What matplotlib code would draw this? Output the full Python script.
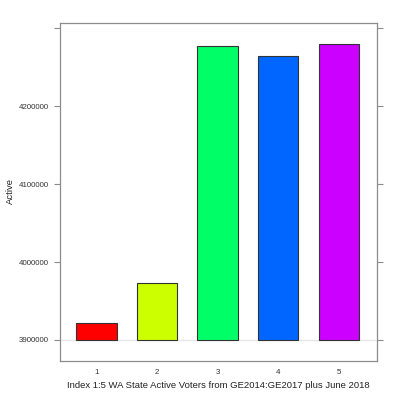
import matplotlib
matplotlib.use("Agg")
import matplotlib.pyplot as plt

plt.rcParams["font.family"] = ["Liberation Sans", "DejaVu Sans"]

index = [1, 2, 3, 4, 5]
active = [3922000, 3972500, 4277000, 4264500, 4279500]
colors = ["#FF0000", "#CCFF00", "#00FF66", "#0066FF", "#CC00FF"]
yticks = [3900000, 4000000, 4100000, 4200000, 4300000]
ytick_labels = ["3900000", "4000000", "4100000", "4200000", ""]
base = 3900000

fig = plt.figure(figsize=(4, 3.99), dpi=100)
ax = fig.add_axes([0.15, 0.0952, 0.7925, 0.847])

ax.axhline(base, color="#e6e6e6", lw=1, zorder=0)
ax.bar(index, [v - base for v in active], bottom=base, width=0.667,
       color=colors, edgecolor="#333333", linewidth=0.8, zorder=2)

ax.set_xlim(0.4, 5.63)
ax.set_ylim(3873000, 4306500)
ax.set_xticks(index)
ax.set_xticklabels([str(i) for i in index])
ax.set_yticks(yticks)
ax.set_yticklabels(ytick_labels)

for s in ax.spines.values():
    s.set_color("#8c8c8c")
    s.set_linewidth(0.9)

ax.tick_params(axis="y", which="both", direction="out", length=4, width=0.8,
               color="#8c8c8c", labelsize=5.7, labelcolor="#333333",
               right=True, left=True, pad=4)
ax.tick_params(axis="x", length=0, labelsize=5.7, labelcolor="#333333", pad=6)

fig.text(10 / 400, 1 - 191 / 399, "Active", rotation=90, fontsize=6.8,
         color="#222222", ha="center", va="center")
fig.text(218 / 400, 1 - 386 / 399,
         "Index 1:5 WA State Active Voters from GE2014:GE2017 plus June 2018",
         fontsize=6.8, color="#222222", ha="center", va="center")

fig.savefig("out.png", dpi=100)
